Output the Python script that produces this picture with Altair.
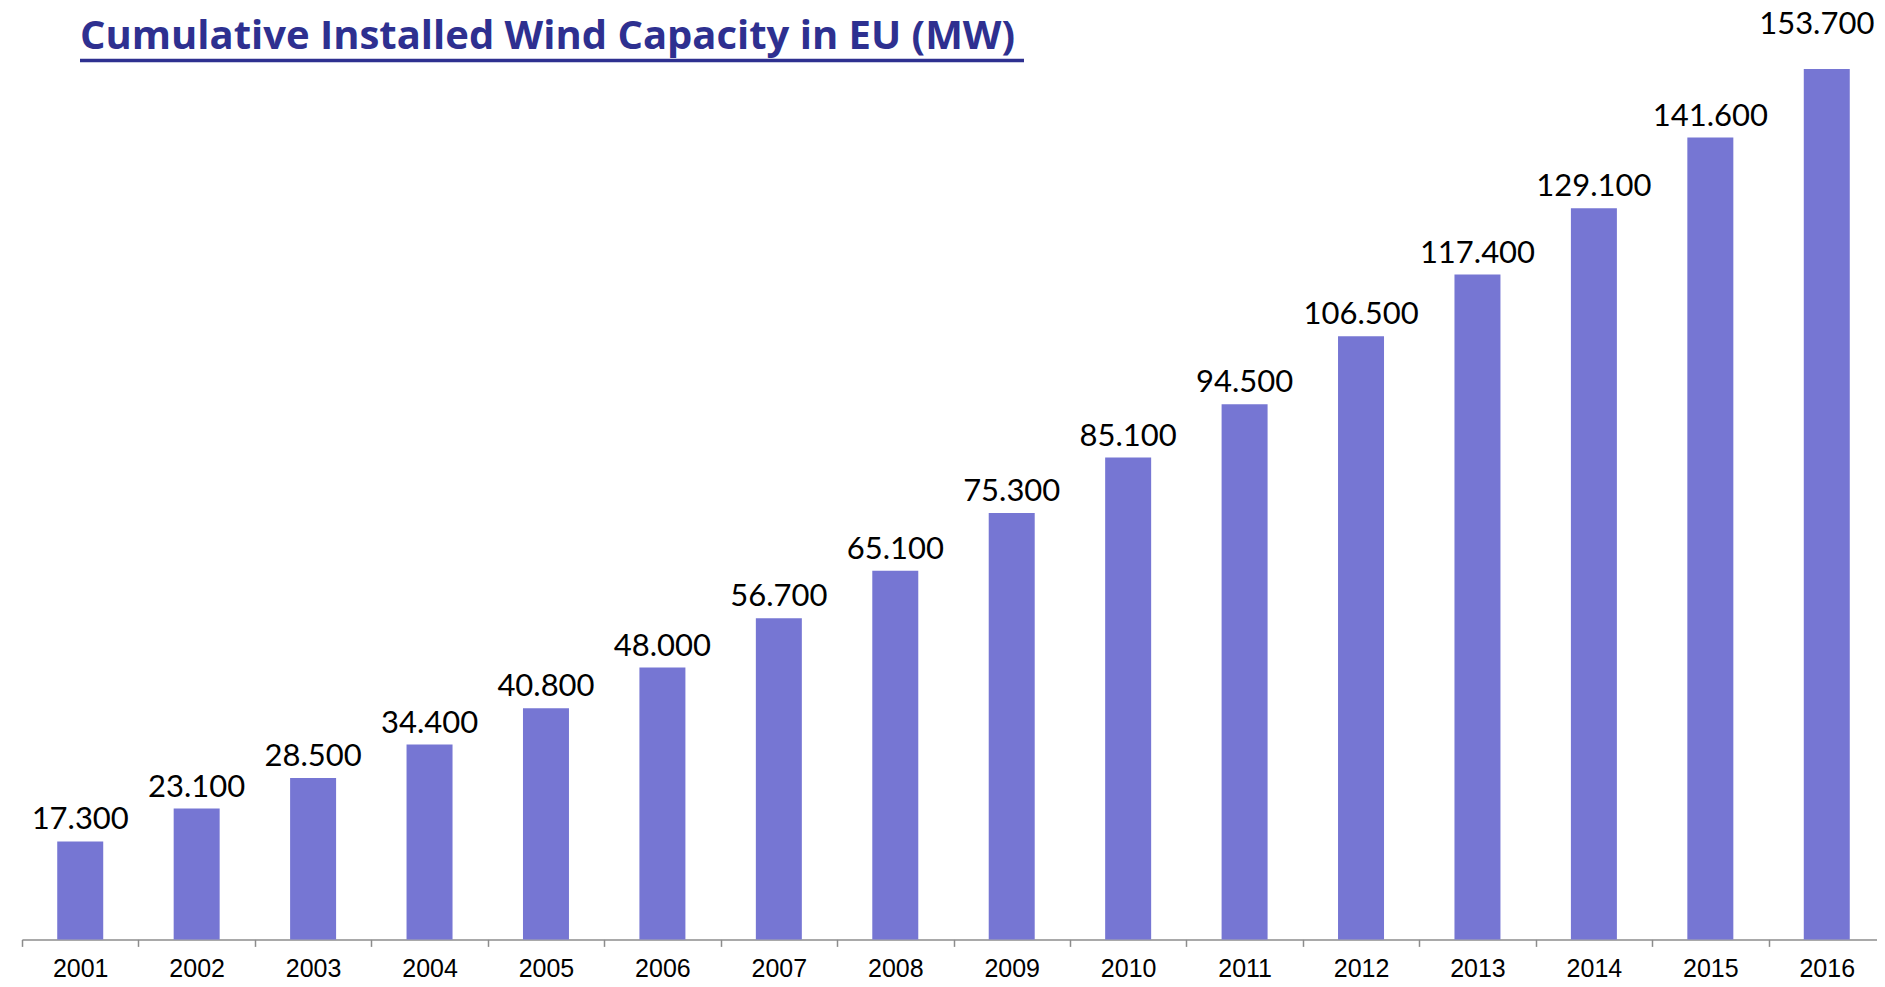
import altair as alt
import pandas as pd

title_text = "Cumulative Installed Wind Capacity in EU (MW)"
years = ["2001", "2002", "2003", "2004", "2005", "2006", "2007", "2008",
         "2009", "2010", "2011", "2012", "2013", "2014", "2015", "2016"]
capacity_mw = [17300, 23100, 28500, 34400, 40800, 48000, 56700, 65100,
               75300, 85100, 94500, 106500, 117400, 129100, 141600, 153700]

df = pd.DataFrame({"year": years, "mw": capacity_mw})

STEP = 1863 / 16

x_enc = alt.X(
    "year:N",
    sort=None,
    scale=alt.Scale(range=[0, 1863], paddingInner=0.605, paddingOuter=0.3025),
    axis=alt.Axis(
        title=None,
        labelAngle=0,
        grid=False,
        domainColor="#8c8c8c",
        domainWidth=1.5,
        tickColor="#8c8c8c",
        tickWidth=1.5,
        tickSize=7,
        tickOffset=-STEP / 2,
        labelOffset=STEP / 2,
        labelFont="Liberation Sans",
        labelFontSize=25,
        labelColor="black",
        labelPadding=10,
    ),
)
y_enc = alt.Y("mw:Q", scale=alt.Scale(domain=[0, 160000]), axis=None)

base = alt.Chart(df)

bars = base.mark_bar(color="#7676D3").encode(x=x_enc, y=y_enc)

labels = base.transform_calculate(
    label="format(datum.mw / 1000, '.3f')"
).transform_filter(
    "datum.year != '2016'"
).mark_text(
    font="Lato", fontSize=31, baseline="alphabetic", dy=-12, color="black"
).encode(x=x_enc, y=y_enc, text="label:N")

label_last = base.transform_calculate(
    label="format(datum.mw / 1000, '.3f')"
).transform_filter(
    "datum.year == '2016'"
).mark_text(
    font="Lato", fontSize=31, baseline="alphabetic", dy=-35, dx=-10, color="black"
).encode(x=x_enc, y=y_enc, text="label:N")

title_df = pd.DataFrame({"t": [title_text]})
title = alt.Chart(title_df).mark_text(
    font="Open Sans", fontSize=40, fontWeight="bold", color="#2E3090",
    align="left", baseline="alphabetic"
).encode(x=alt.value(58), y=alt.value(16), text="t:N")

underline = alt.Chart(title_df).mark_rule(color="#2E3090", strokeWidth=3.5).encode(
    x=alt.value(58), x2=alt.value(1002), y=alt.value(27)
)

chart = alt.layer(bars, labels, label_last, title, underline).properties(
    width=1855,
    height=906,
    autosize=alt.AutoSizeParams(type="none"),
    padding={"left": 14, "top": 25.4, "right": 0, "bottom": 39},
).configure_view(stroke=None)

chart.save("out.html", embed_options={"renderer": "svg", "actions": False})
